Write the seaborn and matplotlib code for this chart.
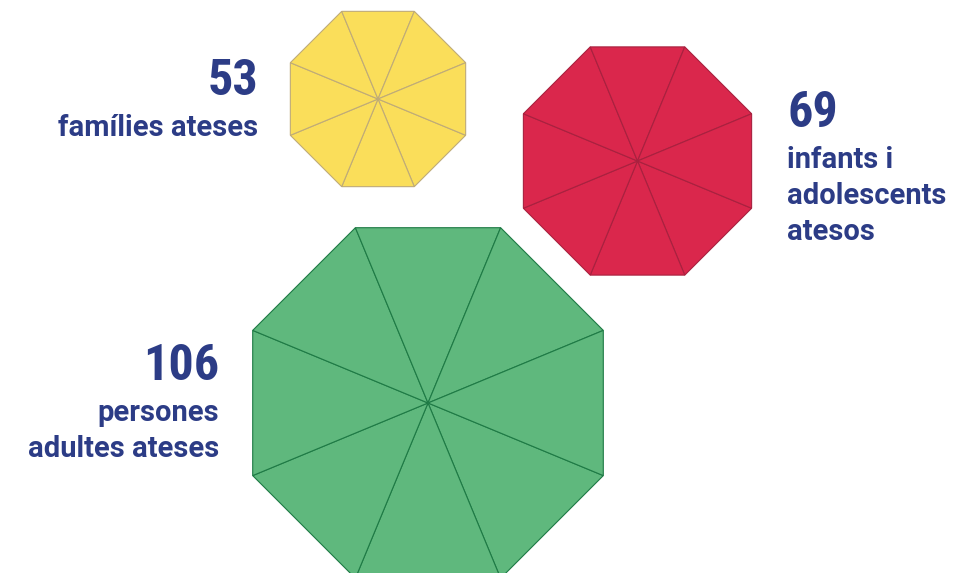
import numpy as np
import matplotlib
matplotlib.use("Agg")
import matplotlib.pyplot as plt
from matplotlib import font_manager
from matplotlib.patches import Polygon
import seaborn as sns

# values shown next to each "umbrella"
values = [53, 69, 106]
labels = [
    ["famílies ateses"],
    ["infants i", "adolescents", "atesos"],
    ["persones", "adultes ateses"],
]
fill_colors = ["#FADE5A", "#DA274C", "#5FB87D"]
edge_colors = ["#BFAB78", "#A8213F", "#1E7A45"]
text_color = "#2C3C86"

# layout (pixels, y down)
centers = [(378, 99), (637.5, 161), (428, 403)]
radius_per_unit = 1.79
num_anchor = [(258, 95, "right"), (787, 127, "left"), (219, 380, "right")]
line_step = 36

sns.set_theme(style="white")
plt.rcParams["font.family"] = ["Roboto", "DejaVu Sans"]

# numbers use a condensed face if one is around
installed = {f.name for f in font_manager.fontManager.ttflist}
num_family = ["Roboto", "DejaVu Sans"]
for cand in ["Roboto Condensed", "Liberation Sans Narrow", "DejaVu Sans Condensed"]:
    if cand in installed:
        num_family = [cand, "DejaVu Sans"]
        break

fig = plt.figure(figsize=(9.63, 5.73), dpi=100)
ax = fig.add_axes([0, 0, 1, 1])
ax.set_xlim(0, 963)
ax.set_ylim(573, 0)
ax.set_aspect("equal")
ax.axis("off")

angles = np.deg2rad(22.5 + 45 * np.arange(8))

for v, (cx, cy), fc, ec in zip(values, centers, fill_colors, edge_colors):
    r = v * radius_per_unit
    xs = cx + r * np.cos(angles)
    ys = cy + r * np.sin(angles)
    for i in range(8):
        j = (i + 1) % 8
        tri = Polygon([(cx, cy), (xs[i], ys[i]), (xs[j], ys[j])],
                      closed=True, facecolor=fc, edgecolor=ec, linewidth=0.8,
                      joinstyle="miter")
        ax.add_patch(tri)

for v, lines, (tx, ty, ha) in zip(values, labels, num_anchor):
    ax.text(tx, ty, str(v), ha=ha, va="baseline", color=text_color,
            fontsize=36, fontweight="bold", family=num_family)
    for k, line in enumerate(lines):
        ax.text(tx, ty + 41 + k * line_step, line, ha=ha, va="baseline",
                color=text_color, fontsize=21, fontweight="bold")

fig.savefig("out.png", dpi=100)
